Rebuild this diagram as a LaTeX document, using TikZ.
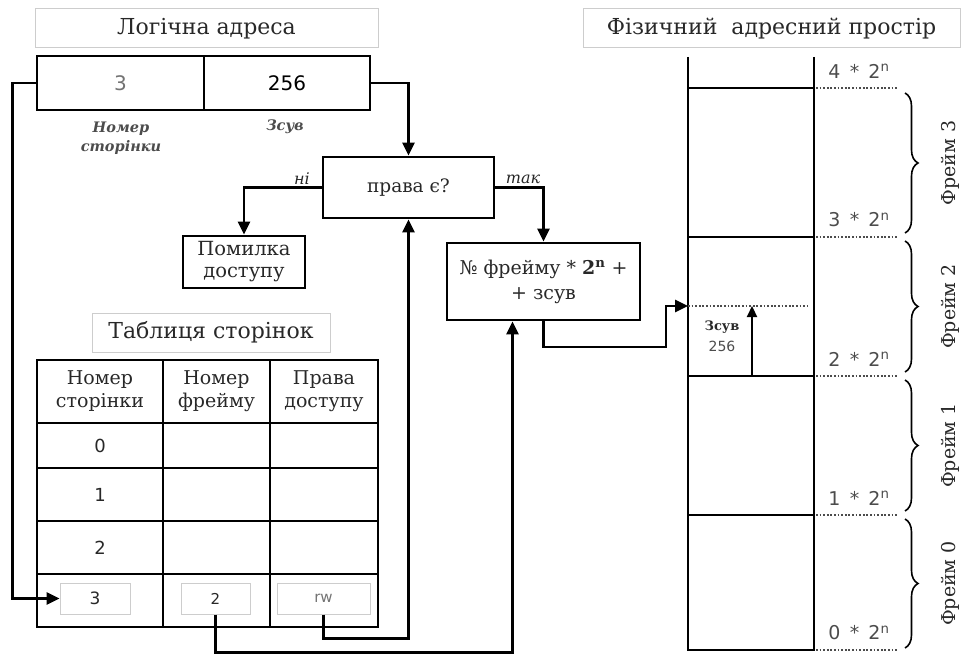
\documentclass[tikz,border=0pt]{standalone}
\usepackage{fontspec}
\setmainfont{DejaVu Serif}
\newfontfamily\sansf{DejaVu Sans}
\usetikzlibrary{arrows.meta,decorations.pathreplacing}
\definecolor{boxgray}{RGB}{205,205,205}
\definecolor{ink}{RGB}{40,40,40}
\tikzset{
  titlebox/.style={draw=boxgray, line width=1pt, inner sep=0pt, font=\fontsize{22}{25}\selectfont, text=ink},
  blk/.style={draw, line width=2.8pt, inner sep=0pt, fill=white},
  cell/.style={draw, line width=1.6pt, inner sep=0pt, align=center, font=\fontsize{19}{23}\selectfont, text=ink},
  inbox/.style={draw=boxgray, line width=1pt, inner sep=0pt, minimum height=31pt},
  conn/.style={line width=2.8pt, -{Triangle[length=13pt,width=12pt]}},
  plain/.style={line width=2.8pt},
  memseg/.style={draw, line width=2.8pt, minimum width=126pt, inner sep=0pt, outer sep=0pt},
  dots/.style={line width=2.4pt, dash pattern=on 1.8pt off 1.8pt, black!70},
  memlabel/.style={font=\sansf\fontsize{19}{22}\selectfont, text=black!70},
  br/.style={decorate, decoration={brace, amplitude=13pt}, line width=1.6pt},
  frlabel/.style={rotate=90, font=\fontsize{19}{22}\selectfont, text=ink}
}
\begin{document}
\begin{tikzpicture}[x=1pt,y=-1pt]
\useasboundingbox (0,0) rectangle (967,655);
% titles
\node[titlebox, minimum width=343pt, minimum height=39pt] (t1) at (206.5,28.5) {Логічна адреса};
\node[titlebox, minimum width=377pt, minimum height=39pt] (t3) at (771.5,28.5) {Фізичний\ \ адресний простір};
\node[titlebox, minimum width=238pt, minimum height=39pt] (t2) at (211,332.5) {Таблиця сторінок};
% logical address
\node[blk, minimum width=167pt, minimum height=54pt, font=\sansf\fontsize{20}{22}\selectfont, text=black!55] (la3) at (120.5,83) {3};
\node[blk, minimum width=166pt, minimum height=54pt, font=\sansf\fontsize{20}{22}\selectfont] (la256) at (287,83) {256};
\node[align=center, font=\bfseries\itshape\fontsize{14.5}{19}\selectfont, text=black!70] (lab1) at (121,138) {Номер\\сторінки};
\node[font=\bfseries\itshape\fontsize{14.5}{19}\selectfont, text=black!70] (lab2) at (285,127) {Зсув};
% decision
\node[blk, minimum width=171pt, minimum height=61pt, font=\fontsize{18.5}{20}\selectfont, text=ink] (prava) at (408.5,187.5) {права є?};
\node[blk, minimum width=122pt, minimum height=52pt, align=center, font=\fontsize{19.5}{22}\selectfont, text=ink] (err) at (244,262) {Помилка\\доступу};
\node[blk, minimum width=193pt, minimum height=77pt, align=center, font=\fontsize{19}{25}\selectfont, text=ink] (frame) at (543.5,281.5) {№ фрейму * \textbf{2\textsuperscript{n}} +\\+ зсув};
\node[font=\itshape\fontsize{16}{18}\selectfont, text=ink] (ni) at (302,179) {ні};
\node[font=\itshape\fontsize{16}{18}\selectfont, text=ink] (tak) at (523,179) {так};
% table
\node[cell, minimum width=126pt, minimum height=63pt] (h1) at (100,391.5) {Номер\\сторінки};
\node[cell, minimum width=107pt, minimum height=63pt] (h2) at (216.5,391.5) {Номер\\фрейму};
\node[cell, minimum width=108pt, minimum height=63pt] (h3) at (324,391.5) {Права\\доступу};
\foreach \r/\yc/\hh/\v in {0/445.5/45/0, 1/494.5/53/1, 2/547.5/53/2, 3/600.5/53/}{
  \node[cell, minimum width=126pt, minimum height=\hh pt, font=\sansf\fontsize{18}{20}\selectfont] (c\r a) at (100,\yc) {\v};
  \node[cell, minimum width=107pt, minimum height=\hh pt] (c\r b) at (216.5,\yc) {};
  \node[cell, minimum width=108pt, minimum height=\hh pt] (c\r c) at (324,\yc) {};
}
\node[inbox, minimum width=70pt, font=\sansf\fontsize{17}{20}\selectfont, text=ink] (i3) at (95,598.5) {3};
\node[inbox, minimum width=69pt, font=\sansf\fontsize{15}{18}\selectfont, text=ink] (i2) at (215.5,598.5) {2};
\node[inbox, minimum width=93pt, font=\sansf\fontsize{15}{18}\selectfont, text=black!55] (irw) at (323.5,598.5) {rw};
% memory
\node[memseg, minimum height=149pt] (fr3) at (751,162.5) {};
\node[memseg, minimum height=139pt] (fr2) at (751,306.5) {};
\node[memseg, minimum height=139pt] (fr1) at (751,445.5) {};
\node[memseg, minimum height=135pt] (fr0) at (751,582.5) {};
\coordinate (topL) at (688,57);
\coordinate (topR) at (814,57);
\draw[plain] (topL) -- (fr3.north west);
\draw[plain] (topR) -- (fr3.north east);
% dotted levels
\foreach \n/\yy in {4/88,3/237,2/376,1/515,0/650}{
  \coordinate (d\n a) at (816,\yy);
  \coordinate (d\n b) at (898,\yy);
  \draw[dots] (d\n a) -- (d\n b);
  \node[memlabel] (m\n) at (859,\yy-17) {\n\ \,*\ \,2\textsuperscript{n}};
}
% braces
\foreach \n/\ya/\yb/\lab in {3/93/233/3,2/241/372/2,1/380/511/1,0/519/648/0}{
  \coordinate (b\n a) at (905,\ya);
  \coordinate (b\n b) at (905,\yb);
  \draw[br] (b\n a) -- (b\n b);
  \node[frlabel] (fl\n) at (950,{(\ya+\yb)/2}) {Фрейм \lab};
}
% offset inside frame 2
\coordinate (m256) at (688,306);
\coordinate (m256r) at (808,306);
\draw[dots] (m256) -- (m256r);
\node[font=\bfseries\fontsize{13}{16}\selectfont, text=ink] (zs) at (722,327) {Зсув};
\node[font=\sansf\fontsize{14}{16}\selectfont, text=black!70] (zs2) at (722,346) {256};
\coordinate (offb) at (752,376);
\coordinate (offt) at (752,306);
\draw[line width=2.2pt, -{Triangle[length=11pt,width=10pt]}] (offb) -- (offt);
% connectors
\draw[conn] (la256.east) -| (prava.north);
\draw[conn] (prava.west) -| (err.north);
\draw[conn] (prava.east) -| (frame.north);
\draw[conn] (la3.west) -- ++(-23,0) |- (i3.west);
\draw[conn] (i2.south) -- ++(0,38) -| ([xshift=-31pt]frame.south);
\draw[conn] (irw.south) -- ++(0,24) -| (prava.south);
\draw[conn] (frame.south) |- (666,347) |- (m256);
\end{tikzpicture}
\end{document}
